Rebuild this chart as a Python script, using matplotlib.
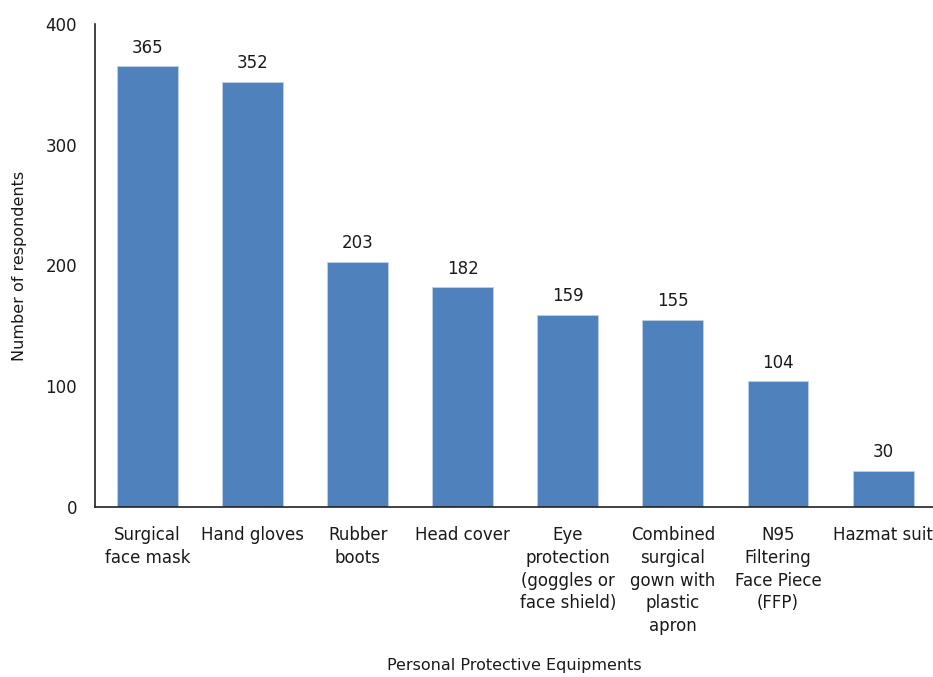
import matplotlib
matplotlib.use("Agg")
import matplotlib.pyplot as plt

categories = ["Surgical\nface mask", "Hand gloves", "Rubber\nboots", "Head cover",
              "Eye\nprotection\n(goggles or\nface shield)",
              "Combined\nsurgical\ngown with\nplastic\napron",
              "N95\nFiltering\nFace Piece\n(FFP)", "Hazmat suit"]
values = [365, 352, 203, 182, 159, 155, 104, 30]
yticks = [0, 100, 200, 300, 400]

plt.rcParams['font.family'] = ['DejaVu Sans']
fig = plt.figure(figsize=(9.33, 6.77), dpi=100)
ax = fig.add_axes([95/933, 170/677, 838/933, 483/677])

x = list(range(len(categories)))
ax.bar(x, values, width=0.58, color="#4F81BD", edgecolor="#BFD0E6", linewidth=0.6)
for xi, v in zip(x, values):
    ax.annotate(str(v), (xi, v), xytext=(0, 7), textcoords="offset points",
                ha="center", va="bottom", fontsize=12, color="#1a1a1a")

ax.set_xlim(-0.5, 7.475)
ax.set_ylim(0, 400)
ax.set_yticks(yticks)
ax.set_xticks(x)
ax.set_xticklabels(categories, fontsize=12, color="#1a1a1a", linespacing=1.33)
ax.tick_params(axis="both", length=0, labelsize=12, colors="#1a1a1a")
ax.tick_params(axis="x", pad=14)
ax.tick_params(axis="y", pad=13)
for s in ["top", "right"]:
    ax.spines[s].set_visible(False)
for s in ["left", "bottom"]:
    ax.spines[s].set_color("#222222")
    ax.spines[s].set_linewidth(1.2)

ax.set_ylabel("Number of respondents", fontsize=11.5, color="#1a1a1a")
ax.yaxis.set_label_coords(-68/838, 0.5)
ax.set_xlabel("Personal Protective Equipments", fontsize=11.5, color="#1a1a1a")
ax.xaxis.set_label_coords((514-95)/838, -(658-507)/483)

fig.savefig("out.png", dpi=100)
